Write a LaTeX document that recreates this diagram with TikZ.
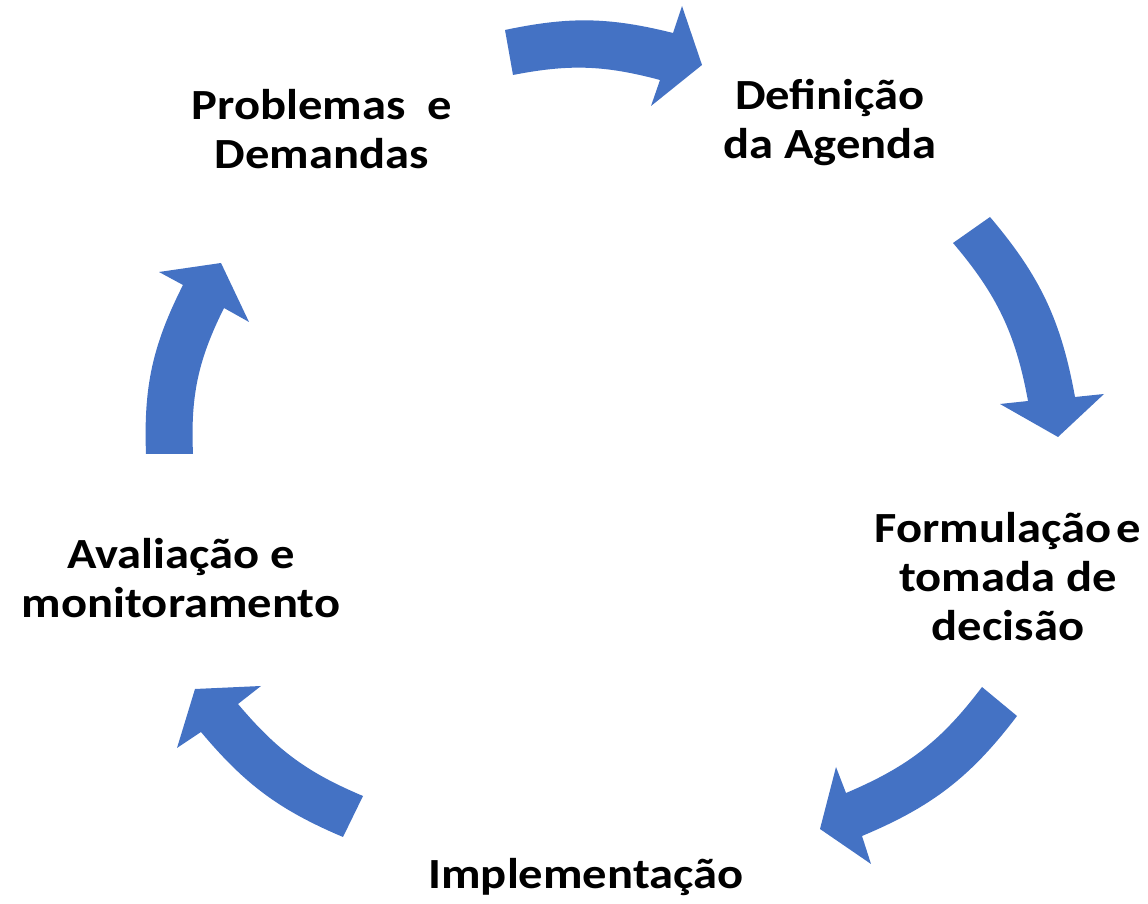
\documentclass[tikz,border=0pt]{standalone}
\usepackage{fontspec}
\setmainfont{Carlito}[FakeStretch=1.13]
\definecolor{arrowblue}{RGB}{68,114,196}
\tikzset{
  blockarrow/.style={fill=arrowblue, draw=none},
  steplabel/.style={font=\fontsize{43}{49}\selectfont\bfseries, align=center, inner sep=0pt, text=black}
}
\begin{document}
\begin{tikzpicture}[x=1pt,y=1pt]
\useasboundingbox (0,0) rectangle (1148,904);
% arrow 1 (top)
\fill[blockarrow] (505,874) to[bend left=13] (673,871) -- (682,898) -- (702,839) -- (651,798) -- (660,824) to[bend right=13] (513,829) -- cycle;
% arrow 2 (right)
\fill[blockarrow] (990,687) to[bend left=15] (1075,507) -- (1104,510) -- (1058,467) -- (1000,500) -- (1028,503) to[bend right=15] (953,661) -- cycle;
% arrow 3 (bottom right)
\fill[blockarrow] (1017,188) to[bend left=15] (862,68) -- (871,40) -- (820,75) -- (836,137) -- (846,111) to[bend right=15] (982,217) -- cycle;
% arrow 4 (bottom left)
\fill[blockarrow] (343,67) to[bend left=13.5] (201,172) -- (177,156) -- (195,215) -- (261,218) -- (238,200) to[bend right=13.5] (363,108) -- cycle;
% arrow 5 (left)
\fill[blockarrow] (146,450) to[bend left=14.5] (183,619) -- (159,632) -- (221,641) -- (249,582) -- (224,596) to[bend right=14.5] (193,450) -- cycle;
% labels
\node[steplabel] (problemas) at (322,775) {Problemas~\ e\\Demandas};
\node[steplabel] (agenda) at (830,781) {Definição\\da Agenda};
\node[steplabel] (formulacao) at (1008,327.5) {Formulação\hspace{0.12em}e\\tomada de\\decisão};
\node[steplabel] (implementacao) at (586,26.5) {Implementação};
\node[steplabel] (avaliacao) at (181,326) {Avaliação e\\monitoramento};
\end{tikzpicture}
\end{document}
